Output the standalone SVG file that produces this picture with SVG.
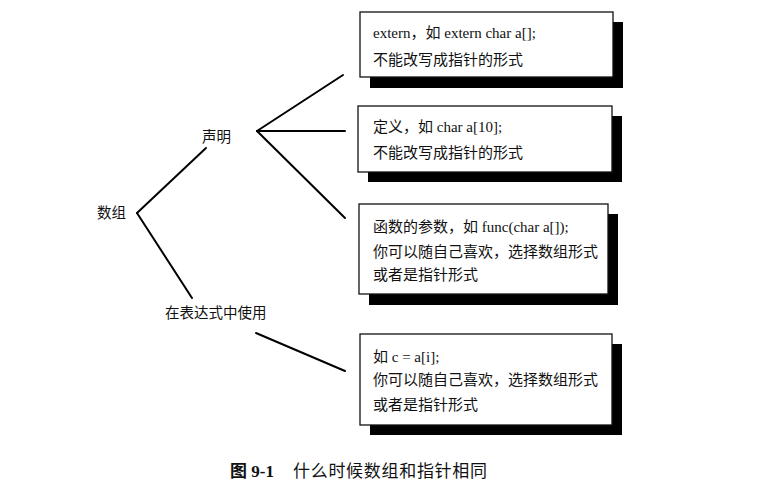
<svg xmlns="http://www.w3.org/2000/svg" width="759" height="495" viewBox="0 0 759 495">
<style>
.t{font-family:"Liberation Serif","Noto Sans CJK SC",serif;font-size:14.5px;fill:#111}
.b{font-family:"Liberation Serif","Noto Sans CJK SC",serif;font-size:15px;fill:#111}
.box{fill:#fff;stroke:#111;stroke-width:1.3}
.sh{fill:#000}
.ln{stroke:#000;stroke-width:2;fill:none;stroke-linecap:round}
.cap{font-family:"Liberation Serif","Noto Sans CJK SC",serif;font-size:17px;fill:#111}
</style>
<rect width="759" height="495" fill="#fff"/>
<g id="connectors">
<line class="ln" x1="137" y1="213" x2="206" y2="148"/>
<line class="ln" x1="137" y1="213" x2="192" y2="298"/>
<line class="ln" x1="257" y1="131" x2="343" y2="75"/>
<line class="ln" x1="257" y1="131" x2="345" y2="131"/>
<line class="ln" x1="257" y1="131" x2="345" y2="218"/>
<line class="ln" x1="256" y1="333" x2="345" y2="371"/>
</g>
<g id="node-shuzu"><text class="t" x="97" y="218">数组</text></g>
<g id="node-shengming"><text class="t" x="202" y="142">声明</text></g>
<g id="node-biaodashi"><text class="t" x="165" y="318">在表达式中使用</text></g>
<g id="node-box1">
<rect class="sh" x="370" y="22" width="253" height="66"/>
<rect class="box" x="360" y="12" width="253" height="65"/>
<text class="b" x="373" y="38">extern，如 extern char a[];</text>
<text class="b" x="373" y="65">不能改写成指针的形式</text>
</g>
<g id="node-box2">
<rect class="sh" x="368" y="116" width="254" height="66"/>
<rect class="box" x="358" y="106" width="254" height="66"/>
<text class="b" x="373" y="132">定义，如 char a[10];</text>
<text class="b" x="373" y="158">不能改写成指针的形式</text>
</g>
<g id="node-box3">
<rect class="sh" x="369" y="214" width="249" height="91"/>
<rect class="box" x="359" y="204" width="249" height="90"/>
<text class="b" x="373" y="232">函数的参数，如 func(char a[]);</text>
<text class="b" x="373" y="257">你可以随自己喜欢，选择数组形式</text>
<text class="b" x="373" y="280">或者是指针形式</text>
</g>
<g id="node-box4">
<rect class="sh" x="370" y="344" width="252" height="91"/>
<rect class="box" x="360" y="334" width="252" height="91"/>
<text class="b" x="373" y="362">如  c = a[i];</text>
<text class="b" x="373" y="385">你可以随自己喜欢，选择数组形式</text>
<text class="b" x="373" y="410">或者是指针形式</text>
</g>
<g id="caption">
<text class="cap" x="230" y="477" font-weight="bold" font-size="16">图 9-1</text>
<text class="cap" x="293" y="477" letter-spacing="0.7">什么时候数组和指针相同</text>
</g>
</svg>
